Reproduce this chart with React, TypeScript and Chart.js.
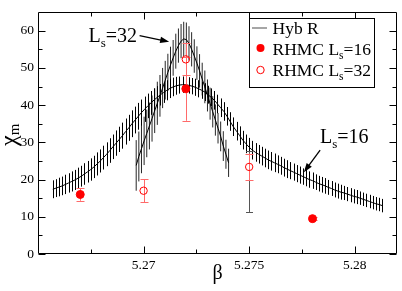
import React, { useEffect, useRef } from 'react';
import { Chart, registerables } from 'chart.js';
Chart.register(...registerables);

// ---- axes ----
const xMin = 5.265;
const xMax = 5.282;
const yMin = 0;
const yMax = 65;
const xTickValues = [5.27, 5.275, 5.28];
const xTickLabels = ['5.27', '5.275', '5.28'];
const xMinorTicks = [5.2675, 5.2725, 5.2775];
const yTickValues = [0, 10, 20, 30, 40, 50, 60];
const yTickLabels = ['0', '10', '20', '30', '40', '50', '60'];
const yMinorTicks = [5, 15, 25, 35, 45, 55];

// ---- Hyb R, Ls=16 (reweighted curve, dense error bars) ----
const hyb16Start = 5.2657;
const hyb16Step = 0.00015;
const hyb16Values = [
  17.4, 17.7, 18.0, 18.3, 18.7, 19.1, 19.5, 19.9, 20.4, 20.9,
  21.5, 22.1, 22.7, 23.4, 24.2, 25.0, 25.9, 26.8, 27.8, 28.8,
  29.8, 30.8, 31.8, 32.9, 33.9, 35.0, 36.0, 37.0, 38.0, 38.9,
  39.8, 40.6, 41.4, 42.1, 42.8, 43.4, 44.0, 44.5, 44.9, 45.2,
  45.4, 45.5, 45.5, 45.3, 45.1, 44.8, 44.4, 44.0, 43.5, 42.8,
  42.1, 41.3, 40.3, 39.3, 38.3, 37.0, 35.6, 34.2, 33.0, 31.8,
  30.6, 29.6, 28.7, 27.9, 27.3, 26.8, 26.3, 25.8, 25.3, 24.9,
  24.5, 24.1, 23.7, 23.2, 22.8, 22.4, 22.0, 21.6, 21.2, 20.8,
  20.4, 20.0, 19.7, 19.3, 18.9, 18.6, 18.3, 17.9, 17.6, 17.2,
  16.9, 16.6, 16.4, 16.1, 15.8, 15.5, 15.3, 15.0, 14.7, 14.4,
  14.1, 13.8, 13.5, 13.3, 13.0,
];
const hyb16Errors = [
  2.4, 2.4, 2.5, 2.5, 2.6, 2.6, 2.7, 2.7, 2.8, 2.8,
  2.9, 2.9, 3.0, 3.0, 3.1, 3.1, 3.2, 3.2, 3.3, 3.3,
  3.4, 3.4, 3.5, 3.5, 3.5, 3.6, 3.6, 3.6, 3.5, 3.4,
  3.3, 3.2, 3.1, 3.0, 2.9, 2.8, 2.7, 2.6, 2.5, 2.4,
  2.3, 2.2, 2.2, 2.2, 2.2, 2.3, 2.3, 2.3, 2.4, 2.4,
  2.4, 2.5, 2.5, 2.5, 2.5, 2.5, 2.5, 2.5, 2.5, 2.5,
  2.5, 2.5, 2.5, 2.5, 2.5, 2.5, 2.5, 2.5, 2.5, 2.5,
  2.5, 2.4, 2.4, 2.4, 2.4, 2.3, 2.3, 2.3, 2.3, 2.2,
  2.2, 2.2, 2.2, 2.1, 2.1, 2.1, 2.1, 2.0, 2.0, 2.0,
  2.0, 2.0, 1.9, 1.9, 1.9, 1.9, 1.9, 1.8, 1.8, 1.8,
  1.8, 1.8, 1.8, 1.8, 1.8,
];

// ---- Hyb R, Ls=32 ----
const hyb32Start = 5.26965;
const hyb32Step = 0.000125;
const hyb32Values = [
  23.8, 26.2, 28.3, 30.4, 32.4, 34.4, 36.4, 38.5, 40.5, 42.5,
  44.6, 46.7, 48.8, 50.8, 52.7, 54.5, 56.0, 57.2, 57.8, 57.6,
  56.6, 55.0, 53.2, 51.3, 49.2, 47.0, 44.9, 42.6, 40.4, 38.2,
  36.0, 33.8, 31.6, 29.0, 26.8, 24.5,
];
const hyb32Errors = [
  6.8, 6.7, 6.6, 6.5, 6.4, 6.3, 6.2, 6.0, 5.8,
  5.6, 5.4, 5.2, 5.0, 4.9, 4.8, 4.7, 4.6, 4.6,
  4.6, 4.6, 4.6, 4.6, 4.5, 4.5, 4.5, 4.4, 4.4,
  4.3, 4.3, 4.2, 4.2, 4.1, 4.0, 4.0, 3.9, 3.8,
];

// ---- Hyb R single point at 5.275 (error bar only) ----
const hybPointBeta = [5.275];
const hybPointValues = [19.5];
const hybPointErrors = [8.2];

// ---- RHMC ----
const rhmc16Beta = [5.267, 5.272, 5.278];
const rhmc16Values = [16.0, 44.4, 9.5];
const rhmc16Errors = [1.7, 8.6, 0.4];
const rhmc32Beta = [5.27, 5.272, 5.275];
const rhmc32Values = [17.0, 52.3, 23.4];
const rhmc32Errors = [3.1, 4.3, 3.6];

// ---- annotations (data coordinates) ----
const label32 = { beta: 5.26739, value: 57.0, text: '32' };
const arrow32 = { fromBeta: 5.26981, fromValue: 58.7, toBeta: 5.27121, toValue: 57.0 };
const label16 = { beta: 5.27835, value: 29.7, text: '16' };
const arrow16 = { fromBeta: 5.27836, fromValue: 27.9, toBeta: 5.27759, toValue: 22.0 };

const SERIF = "'Liberation Serif', 'Times New Roman', serif";

const hyb16Beta = hyb16Values.map((_, i) => hyb16Start + i * hyb16Step);
const hyb32Beta = hyb32Values.map((_, i) => hyb32Start + i * hyb32Step);

function drawBars(chart: any, betas: number[], vals: number[], errs: number[], color: string, lw: number, cap: number, crisp: boolean) {
  const { ctx, scales } = chart;
  const xs = scales.x, ys = scales.y;
  ctx.save();
  ctx.strokeStyle = color;
  ctx.lineWidth = lw;
  ctx.beginPath();
  for (let i = 0; i < betas.length; i++) {
    let px = xs.getPixelForValue(betas[i]);
    if (crisp) px = Math.round(px) + 0.5;
    const y1 = ys.getPixelForValue(vals[i] + errs[i]);
    const y2 = ys.getPixelForValue(vals[i] - errs[i]);
    ctx.moveTo(px, y1);
    ctx.lineTo(px, y2);
    if (cap > 0) {
      const c1 = Math.round(y1) + 0.5, c2 = Math.round(y2) + 0.5;
      ctx.moveTo(px - cap, c1); ctx.lineTo(px + cap, c1);
      ctx.moveTo(px - cap, c2); ctx.lineTo(px + cap, c2);
    }
  }
  ctx.stroke();
  ctx.restore();
}

function drawSubLabel(ctx: CanvasRenderingContext2D, x: number, y: number, main: string, sub: string, rest: string, size: number, subSize: number, subDy: number) {
  ctx.save();
  ctx.fillStyle = '#000';
  ctx.textAlign = 'left';
  ctx.textBaseline = 'alphabetic';
  ctx.font = `${size}px ${SERIF}`;
  ctx.fillText(main, x, y);
  let cx = x + ctx.measureText(main).width;
  ctx.font = `${subSize}px ${SERIF}`;
  ctx.fillText(sub, cx, y + subDy);
  cx += ctx.measureText(sub).width;
  ctx.font = `${size}px ${SERIF}`;
  ctx.fillText(rest, cx, y);
  ctx.restore();
}

function drawArrow(ctx: CanvasRenderingContext2D, x1: number, y1: number, x2: number, y2: number) {
  const ang = Math.atan2(y2 - y1, x2 - x1);
  const hl = 9, hw = 3.2;
  ctx.save();
  ctx.strokeStyle = '#000';
  ctx.fillStyle = '#000';
  ctx.lineWidth = 1.3;
  ctx.beginPath();
  ctx.moveTo(x1, y1);
  ctx.lineTo(x2 - Math.cos(ang) * hl * 0.8, y2 - Math.sin(ang) * hl * 0.8);
  ctx.stroke();
  ctx.beginPath();
  ctx.moveTo(x2, y2);
  ctx.lineTo(x2 - Math.cos(ang) * hl + Math.sin(ang) * hw, y2 - Math.sin(ang) * hl - Math.cos(ang) * hw);
  ctx.lineTo(x2 - Math.cos(ang) * hl - Math.sin(ang) * hw, y2 - Math.sin(ang) * hl + Math.cos(ang) * hw);
  ctx.closePath();
  ctx.fill();
  ctx.restore();
}

const customPlugin = {
  id: 'customDecor',
  beforeDatasetsDraw(chart: any) {
    drawBars(chart, hyb32Beta, hyb32Values, hyb32Errors, 'rgba(0,0,0,0.85)', 1, 0, false);
  },
  afterDatasetDraw(chart: any, args: any) {
    if (args.index === 3) {
      drawBars(chart, hyb16Beta, hyb16Values, hyb16Errors, '#000', 1, 0, true);
    }
    if (args.index === 2) {
      drawBars(chart, hybPointBeta, hybPointValues, hybPointErrors, '#555', 1, 3.5, true);
      drawBars(chart, rhmc32Beta, rhmc32Values, rhmc32Errors, '#ff6a6a', 1, 4, true);
      drawBars(chart, rhmc16Beta, rhmc16Values, rhmc16Errors, '#ff6a6a', 1, 4, true);
    }
  },
  afterDraw(chart: any) {
    const { ctx, chartArea, scales } = chart;
    const xs = scales.x, ys = scales.y;
    const L = Math.round(chartArea.left) + 0.5;
    const R = Math.round(chartArea.right) - 0.5;
    const T = Math.round(chartArea.top) + 0.5;
    const B = Math.round(chartArea.bottom) - 0.5;
    ctx.save();
    ctx.strokeStyle = '#000';
    ctx.lineWidth = 1;
    ctx.beginPath();
    ctx.rect(L, T, R - L, B - T);
    const tick = (vals: number[], len: number) => {
      for (const v of vals) {
        const px = Math.round(xs.getPixelForValue(v)) + 0.5;
        ctx.moveTo(px, B); ctx.lineTo(px, B - len);
        ctx.moveTo(px, T); ctx.lineTo(px, T + len);
      }
    };
    const ytick = (vals: number[], len: number) => {
      for (const v of vals) {
        const py = Math.round(ys.getPixelForValue(v)) + 0.5;
        ctx.moveTo(L, py); ctx.lineTo(L + len, py);
        ctx.moveTo(R, py); ctx.lineTo(R - len, py);
      }
    };
    tick(xTickValues, 7);
    tick(xMinorTicks, 4);
    ytick(yTickValues, 7);
    ytick(yMinorTicks, 4);
    ctx.stroke();
    ctx.restore();

    // axis titles
    ctx.save();
    ctx.fillStyle = '#000';
    ctx.font = `20px ${SERIF}`;
    ctx.textAlign = 'center';
    ctx.textBaseline = 'alphabetic';
    ctx.fillText('β', (chartArea.left + chartArea.right) / 2, 279);
    ctx.restore();

    ctx.save();
    ctx.translate(16, 146);
    ctx.rotate(-Math.PI / 2);
    ctx.fillStyle = '#000';
    ctx.textAlign = 'left';
    ctx.textBaseline = 'alphabetic';
    ctx.font = `24px ${SERIF}`;
    ctx.fillText('χ', 0, 0);
    const w = ctx.measureText('χ').width;
    ctx.font = `15px ${SERIF}`;
    ctx.fillText('m', w, 3);
    ctx.restore();

    // annotations
    drawSubLabel(ctx, xs.getPixelForValue(label32.beta), ys.getPixelForValue(label32.value), 'L', 's', '=' + label32.text, 20, 13, 5);
    drawArrow(ctx, xs.getPixelForValue(arrow32.fromBeta), ys.getPixelForValue(arrow32.fromValue), xs.getPixelForValue(arrow32.toBeta), ys.getPixelForValue(arrow32.toValue));
    drawSubLabel(ctx, xs.getPixelForValue(label16.beta), ys.getPixelForValue(label16.value), 'L', 's', '=' + label16.text, 20, 13, 5);
    drawArrow(ctx, xs.getPixelForValue(arrow16.fromBeta), ys.getPixelForValue(arrow16.fromValue), xs.getPixelForValue(arrow16.toBeta), ys.getPixelForValue(arrow16.toValue));

    // legend
    ctx.save();
    ctx.fillStyle = '#fff';
    ctx.fillRect(249.5, 18.5, 125, 69);
    ctx.strokeStyle = '#000';
    ctx.lineWidth = 1;
    ctx.strokeRect(249.5, 18.5, 125, 69);
    ctx.strokeStyle = '#888';
    ctx.lineWidth = 1.5;
    ctx.beginPath();
    ctx.moveTo(252, 28);
    ctx.lineTo(267, 28);
    ctx.stroke();
    ctx.fillStyle = '#ff0000';
    ctx.beginPath();
    ctx.arc(260.5, 48, 4, 0, Math.PI * 2);
    ctx.fill();
    ctx.strokeStyle = '#ff0000';
    ctx.lineWidth = 1;
    ctx.beginPath();
    ctx.arc(260.5, 70, 3.7, 0, Math.PI * 2);
    ctx.stroke();
    ctx.fillStyle = '#000';
    ctx.font = `17.5px ${SERIF}`;
    ctx.textBaseline = 'alphabetic';
    ctx.fillText('Hyb R', 272.5, 33.5);
    ctx.restore();
    drawSubLabel(ctx, 272.5, 54.5, 'RHMC L', 's', '=16', 17.5, 11.5, 4);
    drawSubLabel(ctx, 272.5, 75.5, 'RHMC L', 's', '=32', 17.5, 11.5, 4);
  },
};

export default function App() {
  const ref = useRef<HTMLCanvasElement>(null);
  useEffect(() => {
    const canvas = ref.current!;
    const toXY = (xs: number[], ys: number[]) => xs.map((x, i) => ({ x, y: ys[i] }));
    const chart = new Chart(canvas, {
      type: 'scatter',
      data: {
        datasets: [
          {
            label: 'RHMC Ls=16',
            data: toXY(rhmc16Beta, rhmc16Values),
            pointRadius: 4,
            pointBackgroundColor: '#ff0000',
            pointBorderColor: '#ff0000',
            pointBorderWidth: 1,
            showLine: false,
            order: 0,
          },
          {
            label: 'RHMC Ls=32',
            data: toXY(rhmc32Beta, rhmc32Values),
            pointRadius: 3.7,
            pointBackgroundColor: 'rgba(0,0,0,0)',
            pointBorderColor: '#ff0000',
            pointBorderWidth: 1,
            showLine: false,
            order: 1,
          },
          {
            label: 'Hyb R Ls=16',
            data: toXY(hyb16Beta, hyb16Values),
            showLine: true,
            borderColor: '#000',
            borderWidth: 1,
            pointRadius: 0,
            tension: 0,
            order: 2,
          },
          {
            label: 'Hyb R Ls=32',
            data: toXY(hyb32Beta, hyb32Values),
            showLine: true,
            borderColor: '#000',
            borderWidth: 1,
            pointRadius: 0,
            tension: 0,
            order: 3,
          },
        ],
      },
      options: {
        responsive: false,
        animation: false,
        devicePixelRatio: 1,
        events: [],
        layout: { padding: { top: 1, right: 2, left: 0, bottom: 0 } },
        plugins: { legend: { display: false }, tooltip: { enabled: false } },
        scales: {
          x: {
            type: 'linear',
            min: xMin,
            max: xMax,
            grid: { display: false, drawTicks: false },
            border: { display: false },
            afterBuildTicks: (s: any) => { s.ticks = xTickValues.map((v) => ({ value: v })); },
            afterFit: (s: any) => { s.height = 37; },
            ticks: {
              padding: 3,
              color: '#000',
              font: { family: SERIF, size: 13.5 },
              maxRotation: 0,
              callback: (v: any) => {
                const i = xTickValues.findIndex((t) => Math.abs(t - v) < 1e-7);
                return i >= 0 ? xTickLabels[i] : '';
              },
            },
          },
          y: {
            type: 'linear',
            min: yMin,
            max: yMax,
            grid: { display: false, drawTicks: false },
            border: { display: false },
            afterBuildTicks: (s: any) => { s.ticks = yTickValues.map((v) => ({ value: v })); },
            afterFit: (s: any) => { s.width = 38; },
            ticks: {
              padding: 4,
              color: '#000',
              font: { family: SERIF, size: 13.5 },
              callback: (v: any) => {
                const i = yTickValues.findIndex((t) => Math.abs(t - v) < 1e-7);
                return i >= 0 ? yTickLabels[i] : '';
              },
            },
          },
        },
      },
      plugins: [customPlugin],
    } as any);
    return () => chart.destroy();
  }, []);
  return (
    <div style={{ position: 'fixed', left: 0, top: 0, width: 402, height: 291, background: '#fff' }}>
      <canvas ref={ref} width={402} height={291} style={{ width: 402, height: 291, display: 'block' }} />
    </div>
  );
}
